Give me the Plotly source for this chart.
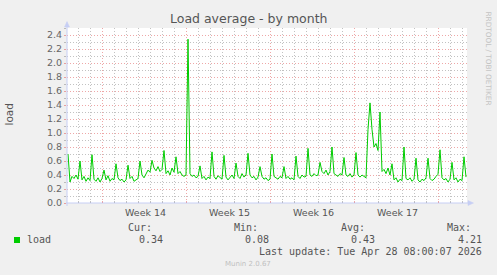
import plotly.graph_objects as go
import pandas as pd

# ---------------- data ----------------
start_time = "2026-03-27 03:24"      # first sample
sample_step = "4h"
load_values = [
    0.70, 0.30, 0.38, 0.35, 0.40, 0.34,
    0.60, 0.33, 0.38, 0.31, 0.36, 0.32,
    0.69, 0.34, 0.31, 0.36, 0.30, 0.35,
    0.47, 0.33, 0.39, 0.31, 0.35, 0.33,
    0.56, 0.36, 0.32, 0.34, 0.30, 0.33,
    0.54, 0.35, 0.38, 0.31, 0.33, 0.35,
    0.60, 0.40, 0.36, 0.42, 0.47, 0.44,
    0.61, 0.50, 0.46, 0.52, 0.45, 0.48,
    0.75, 0.42, 0.46, 0.40, 0.50, 0.44,
    0.66, 0.42, 0.45, 0.40, 0.38, 0.40,
    2.34, 0.42, 0.38, 0.40, 0.36, 0.38,
    0.53, 0.35, 0.38, 0.33, 0.37, 0.35,
    0.73, 0.38, 0.34, 0.39, 0.36, 0.34,
    0.68, 0.37, 0.33, 0.36, 0.40, 0.35,
    0.57, 0.38, 0.35, 0.42, 0.37, 0.40,
    0.71, 0.40, 0.36, 0.38, 0.33, 0.37,
    0.52, 0.38, 0.34, 0.36, 0.32, 0.34,
    0.70, 0.38, 0.36, 0.34, 0.38, 0.36,
    0.52, 0.35, 0.38, 0.34, 0.36, 0.33,
    0.67, 0.38, 0.35, 0.40, 0.37, 0.38,
    0.78, 0.40, 0.38, 0.42, 0.39, 0.40,
    0.58, 0.45, 0.42, 0.47, 0.40, 0.45,
    0.80, 0.42, 0.40, 0.38, 0.42, 0.40,
    0.65, 0.40, 0.38, 0.42, 0.37, 0.40,
    0.72, 0.40, 0.37, 0.40, 0.38, 0.36,
    1.05, 1.43, 1.05, 0.80, 0.85, 0.75,
    1.30, 0.45, 0.48, 0.42, 0.50, 0.40,
    0.56, 0.33, 0.36, 0.30, 0.34, 0.32,
    0.80, 0.35, 0.33, 0.36, 0.31, 0.34,
    0.64, 0.33, 0.30, 0.34, 0.32, 0.36,
    0.64, 0.35, 0.32, 0.34, 0.38, 0.41,
    0.76, 0.36, 0.33, 0.35, 0.30, 0.34,
    0.58, 0.33, 0.36, 0.30, 0.34, 0.32,
    0.66, 0.37,
]
x_range = ["2026-03-27 01:24", "2026-04-29 09:24"]
week_starts = ["2026-03-30", "2026-04-06", "2026-04-13", "2026-04-20", "2026-04-27"]
week_labels = ["Week 14", "Week 15", "Week 16", "Week 17"]
week_label_times = ["2026-04-02 12:00", "2026-04-09 12:00", "2026-04-16 12:00", "2026-04-23 12:00"]
y_tick_values = [0.0, 0.2, 0.4, 0.6, 0.8, 1.0, 1.2, 1.4, 1.6, 1.8, 2.0, 2.2, 2.4]
y_tick_labels = ["0.0", "0.2", "0.4", "0.6", "0.8", "1.0", "1.2", "1.4", "1.6", "1.8", "2.0", "2.2", "2.4"]
y_minor_values = [0.1, 0.3, 0.5, 0.7, 0.9, 1.1, 1.3, 1.5, 1.7, 1.9, 2.1, 2.3, 2.5]
series_name = "load"
stat_names = ["Cur:", "Min:", "Avg:", "Max:"]
stat_values = ["0.34", "0.08", "0.43", "4.21"]
title_text = "Load average - by month"
y_title = "load"
last_update = "Last update: Tue Apr 28 08:00:07 2026"
watermark = "Munin 2.0.67"
side_text = "RRDTOOL / TOBI OETIKER"

# ---------------- build ----------------
times = pd.date_range(start_time, periods=len(load_values), freq=sample_step)
days = pd.date_range("2026-03-28", "2026-04-29", freq="D")
minor_days = [d for d in days if d.strftime("%Y-%m-%d") not in week_starts]

W, H = 497, 275
L, R, T, B = 67, 30, 28, 72
PW, PH = W - L - R, H - T - B


def xp(px):
    return (px - L) / PW


def yp(py):
    return (H - B - py) / PH


MGRID = "rgba(222,79,79,0.5)"
GRID = "rgba(143,143,143,0.55)"
AXIS = "#C6CEF4"
FONT = "#666666"
DASH = "1px,2px"

fig = go.Figure()
fig.add_trace(go.Scatter(x=times, y=load_values, mode="lines",
                         line=dict(color="#00CC00", width=1),
                         hoverinfo="skip", showlegend=False))

fig.update_layout(
    width=W, height=H, autosize=False,
    margin=dict(l=L, r=R, t=T, b=B, pad=0),
    paper_bgcolor="#F0F0F0", plot_bgcolor="#FFFFFF",
    font=dict(family="DejaVu Sans", color=FONT, size=10),
    showlegend=False,
    xaxis=dict(type="date", range=x_range, tickvals=week_starts,
               showticklabels=False, showgrid=True, gridcolor=MGRID,
               griddash=DASH, gridwidth=1, zeroline=False, showline=False,
               ticks="inside", ticklen=2, tickcolor=MGRID,
               minor=dict(tickvals=minor_days, showgrid=True, gridcolor=GRID,
                          griddash=DASH, gridwidth=1, ticks="inside",
                          ticklen=2, tickcolor=GRID)),
    yaxis=dict(range=[0, 2.5], tickvals=y_tick_values, ticktext=y_tick_labels,
               showgrid=True, gridcolor=MGRID, griddash=DASH, gridwidth=1,
               zeroline=False, showline=False, ticks="outside", ticklen=2,
               tickcolor=MGRID, tickfont=dict(size=9.5, color=FONT),
               minor=dict(tickvals=y_minor_values, showgrid=True,
                          gridcolor=GRID, griddash=DASH, gridwidth=1,
                          ticks="outside", ticklen=2, tickcolor=GRID)),
)

shapes = []
# axis lines
shapes.append(dict(type="line", xref="paper", yref="paper",
                   x0=xp(66), x1=xp(469), y0=0, y1=0,
                   line=dict(color=AXIS, width=1), layer="above"))
shapes.append(dict(type="line", xref="paper", yref="paper",
                   x0=0, x1=0, y0=yp(206), y1=yp(24),
                   line=dict(color=AXIS, width=1), layer="above"))
# arrows
shapes.append(dict(type="path", xref="paper", yref="paper",
                   path=f"M {xp(468)},{yp(200.5)} L {xp(473.5)},{yp(203)} L {xp(468)},{yp(205.5)} Z",
                   fillcolor=AXIS, line=dict(color=AXIS, width=0.5), layer="above"))
shapes.append(dict(type="path", xref="paper", yref="paper",
                   path=f"M {xp(64.5)},{yp(27)} L {xp(67)},{yp(21.5)} L {xp(69.5)},{yp(27)} Z",
                   fillcolor=AXIS, line=dict(color=AXIS, width=0.5), layer="above"))
# legend swatch
shapes.append(dict(type="rect", xref="paper", yref="paper",
                   x0=xp(14), x1=xp(20), y0=yp(243), y1=yp(237),
                   fillcolor="#00CC00", line=dict(width=0)))
fig.update_layout(shapes=shapes)

ann = []
ann.append(dict(text=title_text, xref="paper", yref="paper", x=xp(248), y=yp(18.5),
                xanchor="center", yanchor="middle", showarrow=False,
                font=dict(size=12.5, color="#555555")))
ann.append(dict(text=y_title, xref="paper", yref="paper", x=xp(8.5), y=yp(115),
                xanchor="center", yanchor="middle", textangle=-90, showarrow=False,
                font=dict(size=10.5, color="#555555")))
ann.append(dict(text=side_text, xref="paper", yref="paper", x=xp(487.5), y=yp(58),
                xanchor="center", yanchor="middle", textangle=90, showarrow=False,
                font=dict(size=7.3, color="#C4C4C4")))
for t, lab in zip(week_label_times, week_labels):
    ann.append(dict(text=lab, xref="x", yref="paper", x=t, y=yp(212.5),
                    xanchor="center", yanchor="middle", xshift=1, showarrow=False,
                    font=dict(size=9.5, color="#555555")))
MONO = dict(family="DejaVu Sans Mono", size=10, color="#555555")
ann.append(dict(text=series_name, xref="paper", yref="paper", x=xp(25.5), y=yp(239.5),
                xanchor="left", yanchor="middle", showarrow=False, borderpad=0, font=MONO))
for name, left in zip(stat_names, [127, 233, 339.5, 446]):
    ann.append(dict(text=name, xref="paper", yref="paper", x=xp(left), y=yp(227.3),
                    xanchor="left", yanchor="middle", showarrow=False, borderpad=0, font=MONO))
for val, right in zip(stat_values, [163.8, 269.8, 376.2, 483.2]):
    ann.append(dict(text=val, xref="paper", yref="paper", x=xp(right), y=yp(239.5),
                    xanchor="right", yanchor="middle", showarrow=False, borderpad=0, font=MONO))
ann.append(dict(text=last_update, xref="paper", yref="paper", x=xp(483.2), y=yp(251.8),
                xanchor="right", yanchor="middle", showarrow=False, borderpad=0, font=MONO))
ann.append(dict(text=watermark, xref="paper", yref="paper", x=xp(248), y=yp(263.5),
                xanchor="center", yanchor="middle", showarrow=False,
                font=dict(size=7, color="#C0C0C0")))
fig.update_layout(annotations=ann)

fig.write_html("out.html")
